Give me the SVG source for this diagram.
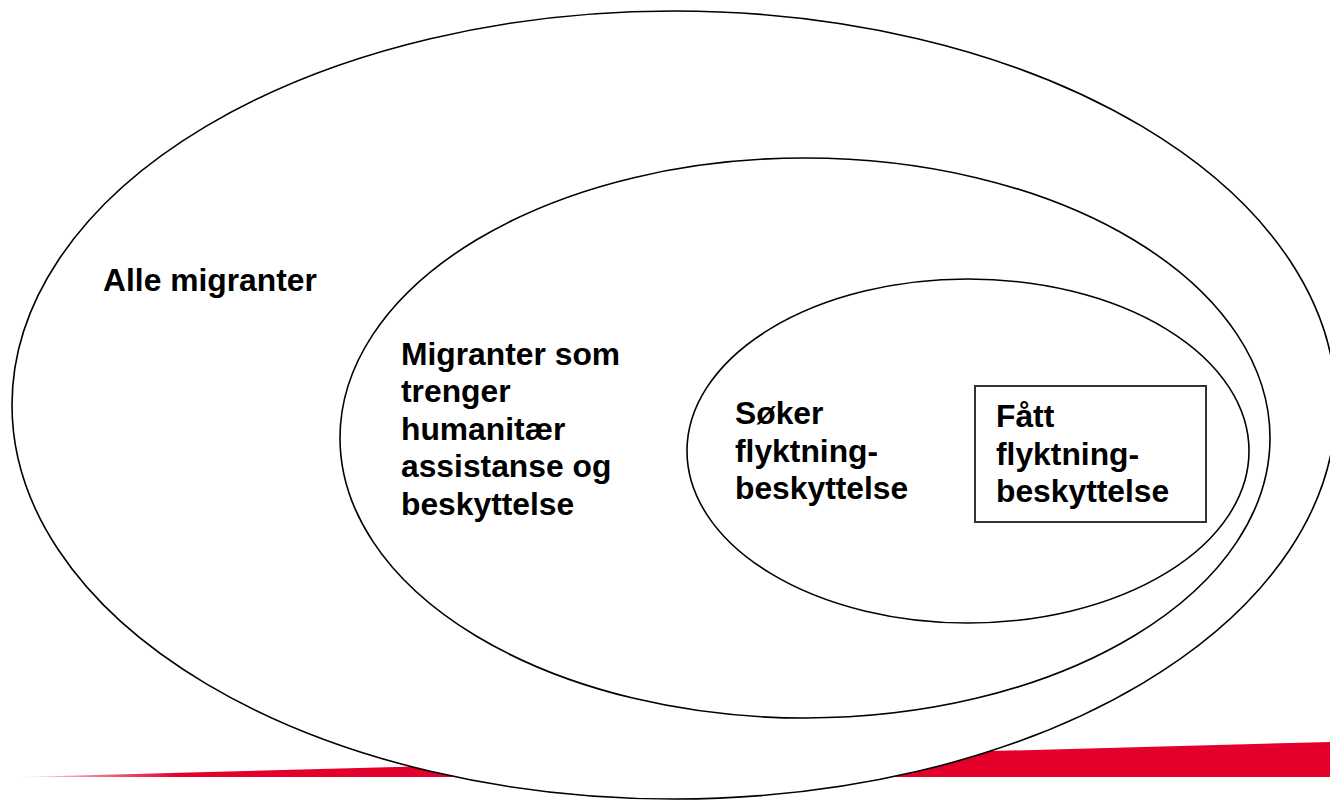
<svg xmlns="http://www.w3.org/2000/svg" width="1330" height="805" viewBox="0 0 1330 805">
<style>
.set{fill:#fff;stroke:#000;stroke-width:1.6}
.lbl{font-family:"Liberation Sans",Arial,sans-serif;font-weight:bold;font-size:31.8px;fill:#000}
</style>
<defs>
<linearGradient id="redfade" x1="20" y1="0" x2="1330" y2="0" gradientUnits="userSpaceOnUse">
<stop offset="0" stop-color="#e4002b" stop-opacity="0.1"/>
<stop offset="0.12" stop-color="#e4002b" stop-opacity="1"/>
<stop offset="1" stop-color="#e4002b"/>
</linearGradient>
</defs>
<rect width="1330" height="805" fill="#fff"/>
<polygon id="red-band" points="20,777 1330,742 1330,777" fill="url(#redfade)"/>
<g id="alle">
<ellipse class="set" cx="674" cy="405" rx="662" ry="394"/>
<text class="lbl" x="103" y="291">Alle migranter</text>
</g>
<g id="humanitaer">
<ellipse class="set" cx="805" cy="438" rx="465" ry="280"/>
<text class="lbl" x="401" y="365">Migranter som</text>
<text class="lbl" x="401" y="402">trenger</text>
<text class="lbl" x="401" y="440">humanitær</text>
<text class="lbl" x="401" y="477">assistanse og</text>
<text class="lbl" x="401" y="515">beskyttelse</text>
</g>
<g id="soker">
<ellipse class="set" cx="968" cy="451" rx="281" ry="172"/>
<text class="lbl" x="735" y="424">Søker</text>
<text class="lbl" x="735" y="462">flyktning-</text>
<text class="lbl" x="735" y="499">beskyttelse</text>
</g>
<g id="fatt">
<rect x="975" y="386" width="231" height="136" fill="#fff" stroke="#333" stroke-width="2"/>
<text class="lbl" x="996" y="427">Fått</text>
<text class="lbl" x="996" y="465">flyktning-</text>
<text class="lbl" x="996" y="502">beskyttelse</text>
</g>
<g id="connectors"/>
</svg>
